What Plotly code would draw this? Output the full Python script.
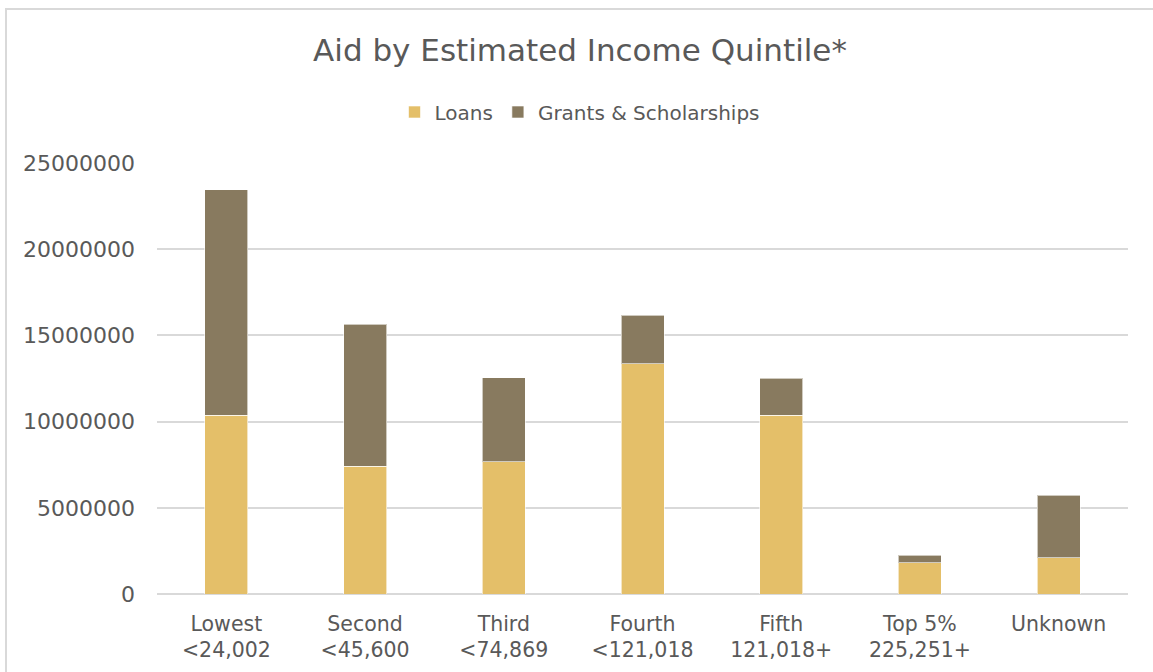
import plotly.graph_objects as go

categories = [
    "Lowest<br>&lt;24,002",
    "Second<br>&lt;45,600",
    "Third<br>&lt;74,869",
    "Fourth<br>&lt;121,018",
    "Fifth<br>121,018+",
    "Top 5%<br>225,251+",
    "Unknown",
]
loans = [10380000, 7400000, 7670000, 13360000, 10380000, 1820000, 2090000]
grants = [13070000, 8260000, 4880000, 2820000, 2130000, 440000, 3630000]
y_ticks = [0, 5000000, 10000000, 15000000, 20000000, 25000000]

LOAN_COLOR = "#E4BF69"
GRANT_COLOR = "#887A5F"
TEXT = "#595959"
GRID = "#D9D9D9"
FONT = "DejaVu Sans"

W, H = 1153, 672
L, R, T, B = 157, 25, 163, 78

fig = go.Figure()
fig.add_trace(go.Bar(
    name="Loans", x=categories, y=loans,
    marker=dict(color=LOAN_COLOR, line=dict(color="rgba(255,255,255,0.6)", width=1)),
))
fig.add_trace(go.Bar(
    name="Grants & Scholarships", x=categories, y=grants,
    marker=dict(color=GRANT_COLOR, line=dict(color="rgba(255,255,255,0.6)", width=1)),
))

pw = W - L - R
ph = H - T - B


def px_x(p):
    return (p - L) / pw


def px_y(p):
    return (H - B - p) / ph


# outer chart frame
fig.add_shape(
    type="rect", xref="paper", yref="paper",
    x0=px_x(6), x1=px_x(W + 10), y0=px_y(H + 10), y1=px_y(9),
    line=dict(color=GRID, width=2), fillcolor="rgba(0,0,0,0)", layer="below",
)

fig.update_layout(
    width=W, height=H,
    barmode="stack",
    bargap=0.69,
    paper_bgcolor="white",
    plot_bgcolor="white",
    margin=dict(l=L, r=R, t=T, b=B, pad=0, autoexpand=False),
    font=dict(family=FONT, size=20, color=TEXT),
    title=dict(
        text="Aid by Estimated Income Quintile*",
        x=580 / W, xanchor="center", xref="container",
        y=1 - 50 / H, yanchor="middle", yref="container",
        font=dict(family=FONT, size=31, color=TEXT),
    ),
    legend=dict(
        orientation="h",
        x=px_x(580), xanchor="center", xref="paper",
        y=px_y(112), yanchor="middle",
        font=dict(family=FONT, size=20, color=TEXT),
        itemwidth=30,
        traceorder="normal",
        bgcolor="rgba(0,0,0,0)",
    ),
    xaxis=dict(
        automargin=False,
        showgrid=False, showline=False, zeroline=False,
        ticks="", tickfont=dict(family=FONT, size=20.5, color=TEXT),
        ticklabelstandoff=15,
    ),
    yaxis=dict(
        automargin=False,
        range=[0, 25000000],
        tickvals=y_ticks,
        ticktext=[str(v) for v in y_ticks],
        showgrid=True, gridcolor=GRID, gridwidth=1.5,
        zeroline=True, zerolinecolor=GRID, zerolinewidth=1.5,
        showline=False, ticks="",
        tickfont=dict(family=FONT, size=22, color=TEXT),
        ticklabelstandoff=21,
    ),
)

fig.write_html("out.html")
